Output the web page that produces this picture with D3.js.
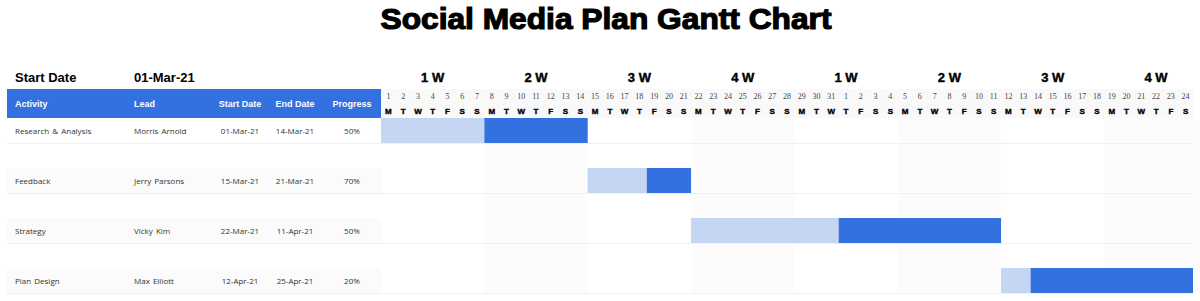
<!DOCTYPE html>
<html>
<head>
<meta charset="utf-8">
<script src="https://cdn.jsdelivr.net/npm/d3@7"></script>
<style>
  body { margin: 0; background: #fff; }
  svg { display: block; }
</style>
</head>
<body>
<div id="chart"></div>
<script>
// chart data
var activities = ["Research & Analysis", "Feedback", "Strategy", "Plan Design"];
var leads = ["Morris Arnold", "Jerry Parsons", "Vicky Kim", "Max Elliott"];
var startDates = ["01-Mar-21", "15-Mar-21", "22-Mar-21", "12-Apr-21"];
var endDates = ["14-Mar-21", "21-Mar-21", "11-Apr-21", "25-Apr-21"];
var progress = [0.5, 0.7, 0.5, 0.2];
var columns = ["Activity", "Lead", "Start Date", "End Date", "Progress"];
var weekLabels = ["1 W", "2 W", "3 W", "4 W", "1 W", "2 W", "3 W", "4 W"];
var dayLetters = ["M", "T", "W", "T", "F", "S", "S"];
var chartStart = "01-Mar-21", chartEnd = "25-Apr-21";

var width = 1200, height = 301;
var parse = d3.timeParse("%d-%b-%y");
var blue = "#3370e0", lightBlue = "#c5d6f5";

var svg = d3.select("#chart").append("svg")
  .attr("width", width)
  .attr("height", height);

var x = d3.scaleTime()
  .domain([parse(chartStart), parse(chartEnd)])
  .range([381, 1193]);

var days = d3.timeDay.range(parse(chartStart), parse(chartEnd));
var dayW = x(days[1]) - x(days[0]);

var rowTop = 118, rowPitch = 50, barH = 25;
var y = function (i) { return rowTop + i * rowPitch; };

// title
svg.append("text")
  .attr("x", 606).attr("y", 29)
  .attr("text-anchor", "middle")
  .attr("textLength", 451)
  .attr("lengthAdjust", "spacingAndGlyphs")
  .style("font-family", "Liberation Sans, Arial, sans-serif")
  .style("font-weight", "bold")
  .style("font-size", "30px")
  .style("stroke", "#000").style("stroke-width", 1.2)
  .text("Social Media Plan Gantt Chart");

svg.append("text").attr("x", 15).attr("y", 82)
  .style("font-family", "Liberation Sans, Arial, sans-serif")
  .style("font-weight", "bold").style("font-size", "13px")
  .text("Start Date");
svg.append("text").attr("x", 134).attr("y", 82)
  .style("font-family", "Liberation Sans, Arial, sans-serif")
  .style("font-weight", "bold").style("font-size", "13px")
  .text(chartStart);

// week shading + week labels
var weeks = d3.timeMonday.range(parse(chartStart), parse(chartEnd));
svg.selectAll(".weekband")
  .data(weeks)
  .enter().append("rect")
  .attr("class", "weekband")
  .attr("x", function (d) { return x(d); })
  .attr("y", rowTop)
  .attr("width", 7 * dayW)
  .attr("height", rowPitch * activities.length - rowPitch + barH)
  .style("fill", function (d, i) { return i % 2 ? "#fcfcfc" : "#fff"; });

svg.selectAll(".weeklabel")
  .data(weeks)
  .enter().append("text")
  .attr("class", "weeklabel")
  .attr("x", function (d) { return x(d) + 3.5 * dayW; })
  .attr("y", 82)
  .attr("text-anchor", "middle")
  .style("font-family", "Liberation Sans, Arial, sans-serif")
  .style("font-weight", "bold").style("font-size", "13px")
  .style("stroke", "#000").style("stroke-width", 0.4)
  .text(function (d, i) { return weekLabels[i]; });

// header
svg.append("rect").attr("x", 7).attr("y", 89).attr("width", 374).attr("height", 29)
  .style("fill", blue);
svg.append("rect").attr("x", 381).attr("y", 89).attr("width", x.range()[1] - 381).attr("height", 29)
  .style("fill", "#f9f9f9");

var colX = [15, 134, 240, 295, 352];
var colAnchor = ["start", "start", "middle", "middle", "middle"];
svg.selectAll(".colhead")
  .data(columns)
  .enter().append("text")
  .attr("class", "colhead")
  .attr("x", function (d, i) { return colX[i]; })
  .attr("y", 107)
  .attr("text-anchor", function (d, i) { return colAnchor[i]; })
  .style("font-family", "Liberation Sans, Arial, sans-serif")
  .style("font-weight", "bold").style("font-size", "9px")
  .style("fill", "#fff")
  .text(function (d) { return d; });

svg.selectAll(".daynum")
  .data(days)
  .enter().append("text")
  .attr("class", "daynum")
  .attr("x", function (d) { return x(d) + dayW / 2; })
  .attr("y", 99)
  .attr("text-anchor", "middle")
  .style("font-family", "Liberation Serif, serif")
  .style("font-size", "8px")
  .style("fill", "#444")
  .text(function (d) { return d.getDate(); });

svg.selectAll(".dayletter")
  .data(days)
  .enter().append("text")
  .attr("class", "dayletter")
  .attr("x", function (d) { return x(d) + dayW / 2; })
  .attr("y", 114)
  .attr("text-anchor", "middle")
  .style("font-family", "Liberation Sans, Arial, sans-serif")
  .style("font-weight", "bold").style("font-size", "8px")
  .style("stroke", "#000").style("stroke-width", 0.4)
  .text(function (d) { return dayLetters[(d.getDay() + 6) % 7]; });

// rows
var rows = activities.map(function (a, i) {
  return {
    activity: a, lead: leads[i], start: startDates[i], end: endDates[i],
    progress: progress[i], i: i
  };
});

svg.selectAll(".rowband")
  .data(rows)
  .enter().append("rect")
  .attr("class", "rowband")
  .attr("x", 7).attr("y", function (d) { return y(d.i); })
  .attr("width", 374).attr("height", barH)
  .style("fill", function (d) { return d.i ? "#fbfbfb" : "#fff"; });

svg.selectAll(".rowline")
  .data(rows)
  .enter().append("line")
  .attr("class", "rowline")
  .attr("x1", 7).attr("x2", x.range()[1])
  .attr("y1", function (d) { return y(d.i) + barH + 0.5; })
  .attr("y2", function (d) { return y(d.i) + barH + 0.5; })
  .style("stroke", "#f0f0f0");

var cells = ["activity", "lead", "start", "end", "progress"];
cells.forEach(function (key, c) {
  svg.selectAll(".cell" + c)
    .data(rows)
    .enter().append("text")
    .attr("class", "cell" + c)
    .attr("x", colX[c])
    .attr("y", function (d) { return y(d.i) + 15.5; })
    .attr("text-anchor", colAnchor[c])
    .style("font-family", "Open Sans, Noto Sans, sans-serif")
    .style("font-size", "8px")
    .style("fill", "#333")
    .style("word-spacing", "1px")
    .text(function (d) {
      return key === "progress" ? Math.round(d.progress * 100) + "%" : d[key];
    });
});

// bars: light = done days, dark = remaining
var lastDay = parse(chartEnd);
rows.forEach(function (d) {
  var s = parse(d.start);
  var e = d3.timeDay.offset(parse(d.end), 1);
  var total = d3.timeDay.count(s, e);
  var done = d3.timeDay.offset(s, Math.floor(total * d.progress));
  var eClip = e > lastDay ? lastDay : e;
  svg.append("rect")
    .attr("x", x(s)).attr("y", y(d.i))
    .attr("width", x(done) - x(s)).attr("height", barH)
    .style("fill", lightBlue);
  svg.append("rect")
    .attr("x", x(done)).attr("y", y(d.i))
    .attr("width", x(eClip) - x(done)).attr("height", barH)
    .style("fill", blue);
});
</script>
</body>
</html>
